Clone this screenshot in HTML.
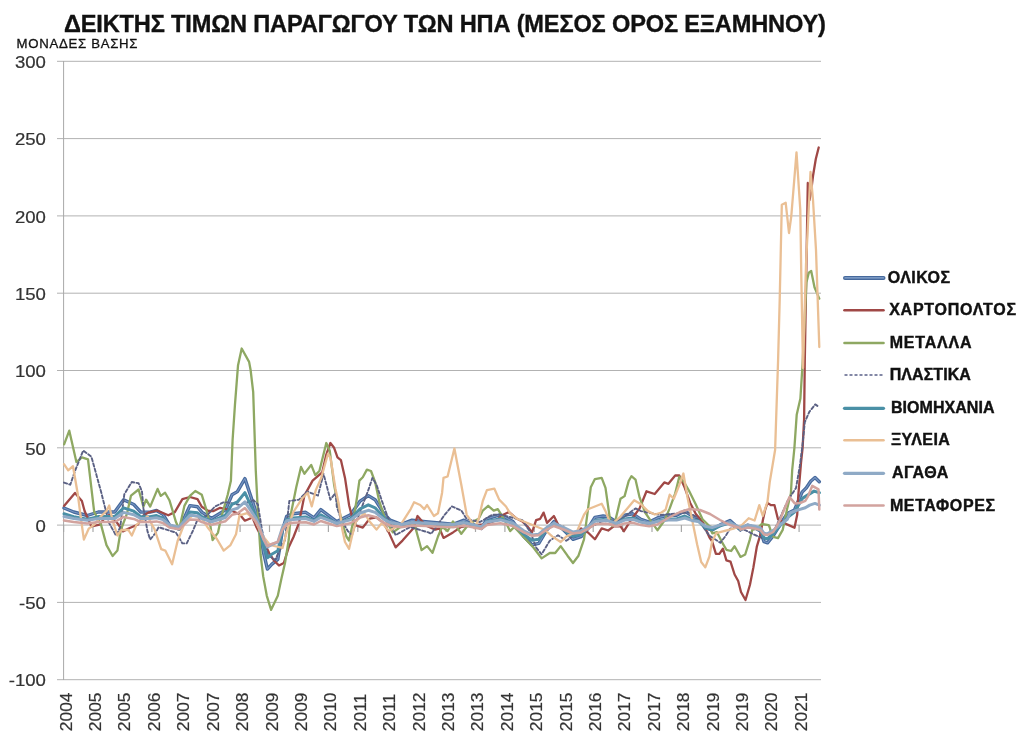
<!DOCTYPE html>
<html><head><meta charset="utf-8"><style>
html,body{margin:0;padding:0;background:#fff;}
body{width:1024px;height:742px;overflow:hidden;position:relative;}
svg{position:absolute;left:0;top:0;filter:blur(0.35px);}
text{font-family:"Liberation Sans",sans-serif;}
.yl{font-size:16.9px;fill:#333;stroke:#333;stroke-width:0.2px;}
.xl{font-size:16.6px;fill:#333;stroke:#333;stroke-width:0.2px;}
.lg{font-size:16px;font-weight:bold;fill:#111;stroke:#111;stroke-width:0.4px;}
.ti{font-size:23.6px;font-weight:bold;fill:#111;stroke:#111;stroke-width:0.35px;letter-spacing:-0.17px;}
.un{font-size:13.2px;fill:#111;stroke:#111;stroke-width:0.3px;letter-spacing:0.7px;}
</style></head><body>
<svg width="1024" height="742" viewBox="0 0 1024 742">
<rect width="1024" height="742" fill="#fff"/>
<text x="64" y="32.2" class="ti">ΔΕΙΚΤΗΣ ΤΙΜΩΝ ΠΑΡΑΓΩΓΟΥ ΤΩΝ ΗΠΑ (ΜΕΣΟΣ ΟΡΟΣ ΕΞΑΜΗΝΟΥ)</text>
<text x="16.6" y="47.6" class="un">ΜΟΝΑΔΕΣ ΒΑΣΗΣ</text>
<line x1="57" y1="61.3" x2="821" y2="61.3" stroke="#b2b2b2" stroke-width="1"/>
<line x1="57" y1="138.6" x2="821" y2="138.6" stroke="#b2b2b2" stroke-width="1"/>
<line x1="57" y1="215.9" x2="821" y2="215.9" stroke="#b2b2b2" stroke-width="1"/>
<line x1="57" y1="293.2" x2="821" y2="293.2" stroke="#b2b2b2" stroke-width="1"/>
<line x1="57" y1="370.5" x2="821" y2="370.5" stroke="#b2b2b2" stroke-width="1"/>
<line x1="57" y1="447.8" x2="821" y2="447.8" stroke="#b2b2b2" stroke-width="1"/>
<line x1="57" y1="525.1" x2="821" y2="525.1" stroke="#b2b2b2" stroke-width="1"/>
<line x1="57" y1="602.4" x2="821" y2="602.4" stroke="#b2b2b2" stroke-width="1"/>
<line x1="57" y1="679.7" x2="821" y2="679.7" stroke="#b2b2b2" stroke-width="1"/>
<line x1="63.6" y1="61" x2="63.6" y2="680" stroke="#a8a8a8" stroke-width="1"/>
<line x1="63.6" y1="525" x2="63.6" y2="532" stroke="#a8a8a8" stroke-width="1.2"/>
<line x1="93.0" y1="525" x2="93.0" y2="532" stroke="#a8a8a8" stroke-width="1.2"/>
<line x1="122.4" y1="525" x2="122.4" y2="532" stroke="#a8a8a8" stroke-width="1.2"/>
<line x1="151.9" y1="525" x2="151.9" y2="532" stroke="#a8a8a8" stroke-width="1.2"/>
<line x1="181.3" y1="525" x2="181.3" y2="532" stroke="#a8a8a8" stroke-width="1.2"/>
<line x1="210.7" y1="525" x2="210.7" y2="532" stroke="#a8a8a8" stroke-width="1.2"/>
<line x1="240.1" y1="525" x2="240.1" y2="532" stroke="#a8a8a8" stroke-width="1.2"/>
<line x1="269.5" y1="525" x2="269.5" y2="532" stroke="#a8a8a8" stroke-width="1.2"/>
<line x1="299.0" y1="525" x2="299.0" y2="532" stroke="#a8a8a8" stroke-width="1.2"/>
<line x1="328.4" y1="525" x2="328.4" y2="532" stroke="#a8a8a8" stroke-width="1.2"/>
<line x1="357.8" y1="525" x2="357.8" y2="532" stroke="#a8a8a8" stroke-width="1.2"/>
<line x1="387.2" y1="525" x2="387.2" y2="532" stroke="#a8a8a8" stroke-width="1.2"/>
<line x1="416.6" y1="525" x2="416.6" y2="532" stroke="#a8a8a8" stroke-width="1.2"/>
<line x1="446.1" y1="525" x2="446.1" y2="532" stroke="#a8a8a8" stroke-width="1.2"/>
<line x1="475.5" y1="525" x2="475.5" y2="532" stroke="#a8a8a8" stroke-width="1.2"/>
<line x1="504.9" y1="525" x2="504.9" y2="532" stroke="#a8a8a8" stroke-width="1.2"/>
<line x1="534.3" y1="525" x2="534.3" y2="532" stroke="#a8a8a8" stroke-width="1.2"/>
<line x1="563.7" y1="525" x2="563.7" y2="532" stroke="#a8a8a8" stroke-width="1.2"/>
<line x1="593.2" y1="525" x2="593.2" y2="532" stroke="#a8a8a8" stroke-width="1.2"/>
<line x1="622.6" y1="525" x2="622.6" y2="532" stroke="#a8a8a8" stroke-width="1.2"/>
<line x1="652.0" y1="525" x2="652.0" y2="532" stroke="#a8a8a8" stroke-width="1.2"/>
<line x1="681.4" y1="525" x2="681.4" y2="532" stroke="#a8a8a8" stroke-width="1.2"/>
<line x1="710.8" y1="525" x2="710.8" y2="532" stroke="#a8a8a8" stroke-width="1.2"/>
<line x1="740.3" y1="525" x2="740.3" y2="532" stroke="#a8a8a8" stroke-width="1.2"/>
<line x1="769.7" y1="525" x2="769.7" y2="532" stroke="#a8a8a8" stroke-width="1.2"/>
<line x1="799.1" y1="525" x2="799.1" y2="532" stroke="#a8a8a8" stroke-width="1.2"/>
<text transform="translate(45.9,68.0) scale(1.1,1)" text-anchor="end" class="yl">300</text>
<text transform="translate(45.9,145.3) scale(1.1,1)" text-anchor="end" class="yl">250</text>
<text transform="translate(45.9,222.6) scale(1.1,1)" text-anchor="end" class="yl">200</text>
<text transform="translate(45.9,299.9) scale(1.1,1)" text-anchor="end" class="yl">150</text>
<text transform="translate(45.9,377.2) scale(1.1,1)" text-anchor="end" class="yl">100</text>
<text transform="translate(45.9,454.5) scale(1.1,1)" text-anchor="end" class="yl">50</text>
<text transform="translate(45.9,531.8) scale(1.1,1)" text-anchor="end" class="yl">0</text>
<text transform="translate(45.9,609.1) scale(1.1,1)" text-anchor="end" class="yl">-50</text>
<text transform="translate(45.9,686.4) scale(1.1,1)" text-anchor="end" class="yl">-100</text>
<text transform="translate(71.6,731.2) rotate(-90) scale(1.05,1)" class="xl">2004</text>
<text transform="translate(101.0,731.2) rotate(-90) scale(1.05,1)" class="xl">2005</text>
<text transform="translate(130.4,731.2) rotate(-90) scale(1.05,1)" class="xl">2005</text>
<text transform="translate(159.8,731.2) rotate(-90) scale(1.05,1)" class="xl">2006</text>
<text transform="translate(189.2,731.2) rotate(-90) scale(1.05,1)" class="xl">2007</text>
<text transform="translate(218.7,731.2) rotate(-90) scale(1.05,1)" class="xl">2007</text>
<text transform="translate(248.1,731.2) rotate(-90) scale(1.05,1)" class="xl">2008</text>
<text transform="translate(277.5,731.2) rotate(-90) scale(1.05,1)" class="xl">2009</text>
<text transform="translate(306.9,731.2) rotate(-90) scale(1.05,1)" class="xl">2009</text>
<text transform="translate(336.3,731.2) rotate(-90) scale(1.05,1)" class="xl">2010</text>
<text transform="translate(365.7,731.2) rotate(-90) scale(1.05,1)" class="xl">2011</text>
<text transform="translate(395.1,731.2) rotate(-90) scale(1.05,1)" class="xl">2011</text>
<text transform="translate(424.5,731.2) rotate(-90) scale(1.05,1)" class="xl">2012</text>
<text transform="translate(453.9,731.2) rotate(-90) scale(1.05,1)" class="xl">2013</text>
<text transform="translate(483.3,731.2) rotate(-90) scale(1.05,1)" class="xl">2013</text>
<text transform="translate(512.8,731.2) rotate(-90) scale(1.05,1)" class="xl">2014</text>
<text transform="translate(542.2,731.2) rotate(-90) scale(1.05,1)" class="xl">2015</text>
<text transform="translate(571.6,731.2) rotate(-90) scale(1.05,1)" class="xl">2015</text>
<text transform="translate(601.0,731.2) rotate(-90) scale(1.05,1)" class="xl">2016</text>
<text transform="translate(630.4,731.2) rotate(-90) scale(1.05,1)" class="xl">2017</text>
<text transform="translate(659.8,731.2) rotate(-90) scale(1.05,1)" class="xl">2017</text>
<text transform="translate(689.2,731.2) rotate(-90) scale(1.05,1)" class="xl">2018</text>
<text transform="translate(718.6,731.2) rotate(-90) scale(1.05,1)" class="xl">2019</text>
<text transform="translate(748.0,731.2) rotate(-90) scale(1.05,1)" class="xl">2019</text>
<text transform="translate(777.4,731.2) rotate(-90) scale(1.05,1)" class="xl">2020</text>
<text transform="translate(806.9,731.2) rotate(-90) scale(1.05,1)" class="xl">2021</text>
<polyline points="64.0,508.0 73.7,512.0 87.3,515.5 98.3,512.0 114.7,512.0 123.6,499.7 133.8,504.5 140.7,512.0 150.0,512.1 156.5,510.5 162.9,514.2 169.4,525.0 179.1,529.3 189.9,505.6 197.5,506.7 201.8,512.1 211.5,518.5 225.5,509.9 232.0,494.8 237.4,491.6 244.9,478.6 250.3,494.8 255.7,511.0 259.0,525.0 263.4,552.0 267.4,569.1 271.7,564.3 277.8,559.4 282.5,530.0 286.6,516.4 293.4,513.7 305.7,512.3 314.0,517.8 320.8,509.6 331.7,517.8 336.8,521.6 350.5,514.8 360.1,501.1 368.3,495.6 375.1,499.7 384.7,514.8 390.2,520.2 401.1,524.3 412.0,520.2 425.7,521.6 439.4,523.0 453.0,524.3 464.0,520.2 481.4,528.4 486.9,518.8 500.5,514.7 512.9,521.5 523.8,536.6 532.0,544.8 538.8,543.4 547.0,529.7 553.9,521.5 563.4,529.7 573.0,539.3 581.2,536.6 588.0,528.4 594.9,517.4 603.1,516.0 608.2,516.6 616.4,522.0 624.6,515.2 632.8,513.8 641.0,519.3 649.2,522.0 657.4,517.9 668.4,515.2 676.6,515.2 684.8,511.1 693.0,516.6 698.4,517.9 705.3,527.5 712.1,530.2 720.3,524.8 730.0,520.5 740.5,529.9 747.5,525.2 754.6,527.5 760.4,531.1 764.0,541.6 767.5,542.8 773.3,535.7 780.4,524.0 787.4,513.5 794.5,510.0 802.1,492.1 806.4,487.8 810.7,481.3 815.0,477.5 819.3,481.8" fill="none" stroke="#46699c" stroke-width="3.4" stroke-linejoin="round" stroke-linecap="round" />
<polyline points="64.0,508.0 73.7,512.0 87.3,515.5 98.3,512.0 114.7,512.0 123.6,499.7 133.8,504.5 140.7,512.0 150.0,512.1 156.5,510.5 162.9,514.2 169.4,525.0 179.1,529.3 189.9,505.6 197.5,506.7 201.8,512.1 211.5,518.5 225.5,509.9 232.0,494.8 237.4,491.6 244.9,478.6 250.3,494.8 255.7,511.0 259.0,525.0 263.4,552.0 267.4,569.1 271.7,564.3 277.8,559.4 282.5,530.0 286.6,516.4 293.4,513.7 305.7,512.3 314.0,517.8 320.8,509.6 331.7,517.8 336.8,521.6 350.5,514.8 360.1,501.1 368.3,495.6 375.1,499.7 384.7,514.8 390.2,520.2 401.1,524.3 412.0,520.2 425.7,521.6 439.4,523.0 453.0,524.3 464.0,520.2 481.4,528.4 486.9,518.8 500.5,514.7 512.9,521.5 523.8,536.6 532.0,544.8 538.8,543.4 547.0,529.7 553.9,521.5 563.4,529.7 573.0,539.3 581.2,536.6 588.0,528.4 594.9,517.4 603.1,516.0 608.2,516.6 616.4,522.0 624.6,515.2 632.8,513.8 641.0,519.3 649.2,522.0 657.4,517.9 668.4,515.2 676.6,515.2 684.8,511.1 693.0,516.6 698.4,517.9 705.3,527.5 712.1,530.2 720.3,524.8 730.0,520.5 740.5,529.9 747.5,525.2 754.6,527.5 760.4,531.1 764.0,541.6 767.5,542.8 773.3,535.7 780.4,524.0 787.4,513.5 794.5,510.0 802.1,492.1 806.4,487.8 810.7,481.3 815.0,477.5 819.3,481.8" fill="none" stroke="#7896c4" stroke-width="1.1" stroke-linejoin="round" stroke-linecap="round" />
<polyline points="64.0,505.9 75.0,492.9 81.9,501.0 84.6,511.0 91.4,526.5 99.6,524.6 105.0,517.5 109.2,515.0 117.4,523.2 122.9,531.4 129.7,528.0 138.0,524.5 143.4,515.5 148.9,512.3 157.1,510.5 168.3,515.3 174.8,512.1 182.4,499.1 189.9,497.0 197.5,499.1 201.8,506.7 208.3,511.0 213.6,511.0 220.1,507.8 230.0,510.0 239.5,514.2 244.9,520.7 252.5,517.5 256.5,527.3 263.4,541.0 269.3,553.3 274.1,560.6 279.0,565.5 283.8,563.0 288.7,547.3 293.5,537.0 298.9,523.2 304.4,495.6 312.6,480.6 322.2,472.4 326.3,454.6 330.4,443.0 334.1,447.8 337.5,457.3 340.9,460.1 345.0,477.9 349.1,505.2 351.9,516.1 354.6,525.0 362.8,527.6 369.6,518.7 376.5,517.3 383.3,522.8 388.8,532.4 395.6,547.4 402.5,540.6 413.4,528.3 417.5,516.0 425.7,525.5 435.3,529.6 439.4,528.3 443.5,537.9 453.0,532.4 461.3,526.9 469.5,525.5 485.5,524.3 496.4,520.2 503.3,514.7 508.8,512.0 517.0,518.8 522.4,521.5 527.9,527.0 532.0,532.5 536.1,520.2 540.2,518.8 543.6,512.6 547.0,522.9 553.9,516.0 558.0,524.3 564.8,529.7 574.4,535.2 581.2,528.4 588.0,532.5 594.9,539.3 601.7,528.4 608.2,530.5 613.7,526.4 620.5,526.4 623.9,531.2 631.4,519.3 639.6,508.4 646.5,491.3 654.7,494.0 664.3,482.4 668.4,483.8 675.2,475.5 679.3,475.5 684.8,487.9 690.2,502.9 695.7,513.8 702.5,522.0 709.4,537.3 712.1,541.4 715.9,553.9 719.4,553.9 722.9,548.7 726.4,560.4 730.5,561.6 734.6,574.5 738.2,581.0 741.0,592.0 745.5,600.0 749.9,585.0 753.4,567.4 756.9,546.3 760.4,534.6 762.8,520.5 765.1,509.9 767.5,502.9 771.0,505.2 774.5,505.2 778.0,519.3 780.4,520.5 787.0,524.4 794.5,527.7 797.2,514.7 798.3,495.3 801.0,463.0 802.6,448.0 804.1,419.3 804.8,360.0 806.0,290.0 807.8,183.0 809.5,200.0 811.0,192.0 813.0,176.0 815.8,159.0 818.7,147.5" fill="none" stroke="#a04846" stroke-width="2.3" stroke-linejoin="round" stroke-linecap="round" />
<polyline points="64.1,444.4 69.3,430.7 76.4,462.1 81.9,457.3 88.0,459.4 94.2,512.0 101.0,524.6 106.5,545.1 112.6,556.0 117.4,550.6 120.8,530.0 127.0,513.7 131.0,495.6 138.6,489.5 143.4,506.6 146.1,499.7 150.2,506.6 157.6,488.9 160.8,495.9 165.1,492.7 169.4,500.2 172.7,511.0 175.9,521.8 179.1,529.3 184.5,505.6 189.9,495.9 195.3,491.0 201.8,494.8 206.1,508.8 210.4,526.1 212.6,540.1 218.0,532.6 221.2,517.5 227.7,494.8 230.9,480.8 232.6,440.0 235.0,404.1 238.0,365.6 241.7,348.5 249.1,361.9 250.6,370.0 253.2,392.2 255.8,471.0 257.9,512.0 260.6,554.7 263.2,576.4 266.8,595.8 271.1,609.8 277.8,595.8 281.4,578.8 285.0,563.0 288.7,540.0 290.7,514.8 296.2,487.4 301.0,466.9 304.4,473.8 311.2,464.9 315.3,475.1 319.4,471.0 326.3,443.0 329.7,450.5 334.1,484.7 338.2,506.4 342.3,522.8 346.4,536.5 349.1,540.6 353.2,521.4 357.3,495.5 359.4,480.6 362.8,477.2 366.9,469.6 371.0,471.0 375.1,482.0 379.2,501.1 384.7,517.5 388.8,525.5 392.9,532.4 402.5,525.5 414.8,525.5 421.6,550.2 427.1,546.1 432.5,552.9 438.0,536.5 442.1,526.9 447.6,531.0 453.0,521.4 461.3,533.8 466.7,526.9 470.5,522.9 478.7,518.8 482.8,510.6 488.2,505.8 493.7,510.6 497.8,509.2 500.5,513.3 506.0,522.9 510.1,531.1 514.2,527.0 533.4,547.5 541.6,558.4 549.8,553.0 555.2,553.0 560.7,546.1 567.5,555.7 573.0,563.0 578.5,555.7 584.0,539.3 588.0,509.2 590.8,487.3 594.9,479.1 601.7,477.8 605.5,487.9 609.6,516.6 612.3,526.1 615.0,522.0 620.5,498.8 624.6,496.1 628.7,481.0 631.4,476.2 635.5,479.6 639.6,497.4 645.1,512.5 650.6,520.7 657.4,530.2 664.3,520.7 669.7,508.4 675.2,493.3 679.3,476.9 683.4,481.0 688.9,490.6 695.7,504.3 702.5,519.3 709.4,526.1 712.3,533.4 717.0,532.2 721.7,541.6 726.4,549.8 731.1,551.0 734.6,546.3 740.5,556.9 745.2,554.5 749.9,539.3 752.2,529.9 756.9,528.7 761.6,524.0 768.7,525.2 773.3,536.9 778.0,538.1 782.7,529.9 787.4,507.6 790.9,493.5 792.2,470.0 794.4,448.0 796.7,414.8 800.4,398.5 802.5,365.0 806.4,282.4 808.8,272.7 811.2,271.0 814.5,287.2 819.3,298.6" fill="none" stroke="#8ea862" stroke-width="2.3" stroke-linejoin="round" stroke-linecap="round" />
<polyline points="64.0,482.6 70.3,484.7 75.0,471.0 83.2,450.5 91.4,456.7 101.0,491.5 106.5,513.4 109.2,523.2 116.0,535.5 120.2,527.3 124.3,494.3 131.8,482.0 138.6,483.3 142.0,491.5 143.4,508.2 147.5,531.4 150.2,539.6 155.7,532.8 158.6,527.2 175.9,532.6 182.4,543.4 186.7,543.4 193.1,530.4 197.5,519.6 207.2,515.3 214.7,506.7 223.4,502.4 227.7,502.4 240.0,505.0 253.6,500.2 257.9,504.5 262.0,530.0 268.0,555.0 275.0,560.0 285.0,540.0 289.3,501.0 299.0,499.7 307.1,491.5 318.0,495.6 323.5,473.8 330.4,499.7 335.5,492.9 336.8,506.6 340.9,518.9 347.8,531.0 352.0,535.0 357.3,518.9 368.3,490.2 372.4,477.9 376.5,484.7 382.0,501.1 387.4,516.1 391.5,525.7 395.6,535.1 410.0,527.0 428.4,532.4 431.2,533.8 444.8,514.6 451.7,506.4 461.3,510.5 466.7,519.0 480.0,522.0 492.3,514.7 500.5,514.7 522.4,520.2 530.6,532.5 536.1,547.5 541.6,554.3 549.8,540.7 558.0,535.2 566.2,540.7 575.0,535.0 588.0,528.4 601.7,521.5 620.0,520.0 635.5,508.4 641.0,511.1 660.0,515.0 688.9,512.5 695.7,516.6 709.4,535.7 720.3,542.8 725.8,535.7 730.0,528.7 735.4,527.8 745.0,530.0 755.0,535.0 765.0,539.0 772.0,535.0 780.0,518.0 788.0,500.0 796.0,488.0 800.0,465.0 802.5,445.0 804.8,422.2 809.3,411.9 815.2,404.4 817.4,405.9" fill="none" stroke="#5b6184" stroke-width="1.9" stroke-linejoin="round" stroke-linecap="round" stroke-dasharray="3.2 2.3" stroke-linecap="butt"/>
<polyline points="64.0,513.8 73.7,516.6 87.3,519.2 98.3,516.6 114.7,516.6 123.6,507.8 133.8,511.2 140.7,516.6 150.0,516.7 156.5,515.6 162.9,518.2 169.4,526.0 179.1,529.1 189.9,512.0 197.5,512.8 201.8,516.7 211.5,521.3 225.5,515.1 232.0,504.3 237.4,502.0 244.9,492.6 250.3,504.3 255.7,515.9 259.0,526.0 263.4,545.4 267.4,557.8 271.7,554.3 277.8,550.8 282.5,529.6 286.6,519.8 293.4,517.9 305.7,516.9 314.0,520.8 320.8,514.9 331.7,520.8 336.8,523.6 350.5,518.7 360.1,508.8 368.3,504.8 375.1,507.8 384.7,518.7 390.2,522.5 401.1,525.5 412.0,522.5 425.7,523.6 439.4,524.6 453.0,525.5 464.0,522.5 481.4,528.4 486.9,521.5 500.5,518.6 512.9,523.5 523.8,534.4 532.0,540.3 538.8,539.2 547.0,529.4 553.9,523.5 563.4,529.4 573.0,536.3 581.2,534.4 588.0,528.4 594.9,520.5 603.1,519.5 608.2,520.0 616.4,523.8 624.6,518.9 632.8,517.9 641.0,521.9 649.2,523.8 657.4,520.9 668.4,518.9 676.6,518.9 684.8,516.0 693.0,520.0 698.4,520.9 705.3,527.8 712.1,529.7 720.3,525.9 730.0,522.8 740.5,529.5 747.5,526.1 754.6,527.8 760.4,530.4 764.0,538.0 767.5,538.8 773.3,533.7 780.4,525.3 787.4,517.7 794.5,512.0 802.7,498.1 814.1,491.1 819.4,492.8" fill="none" stroke="#4a90a6" stroke-width="3.0" stroke-linejoin="round" stroke-linecap="round" />
<polyline points="64.0,464.2 68.2,470.3 73.0,466.2 77.8,494.3 81.2,520.5 83.9,539.6 88.7,528.7 94.2,524.6 99.6,517.8 106.5,511.0 109.2,505.5 112.6,520.5 117.4,535.5 121.5,530.0 128.4,530.0 131.8,535.5 136.6,524.6 147.5,516.4 154.3,528.7 161.2,549.2 165.3,550.6 172.1,564.3 177.6,541.0 185.6,520.7 193.1,515.3 201.8,518.5 208.3,528.3 216.9,539.0 223.7,550.6 230.5,545.1 236.0,534.2 239.5,515.3 247.1,513.1 255.2,520.5 262.0,535.0 270.0,545.0 282.5,547.9 288.0,527.3 293.4,512.0 302.3,498.2 307.7,492.8 311.8,506.3 315.8,490.1 321.2,478.0 328.0,453.7 330.5,458.0 335.5,489.0 338.7,503.6 342.3,529.6 345.0,542.0 349.1,548.8 351.9,536.5 356.0,521.4 364.2,513.2 369.6,521.4 376.5,529.6 382.0,522.8 388.8,531.0 401.1,524.2 410.7,509.1 414.1,502.3 420.2,505.0 424.3,509.1 427.1,505.0 433.9,516.0 438.0,513.2 442.1,492.7 443.5,477.9 447.6,476.5 454.4,448.5 461.3,484.7 466.7,514.8 470.5,520.2 474.6,528.4 478.7,518.8 482.8,501.0 486.9,490.1 494.4,488.7 499.2,499.6 506.0,506.5 510.1,513.3 517.0,518.8 530.0,524.0 545.0,530.0 552.5,536.6 560.7,542.0 566.2,536.6 577.1,531.1 584.0,514.7 588.0,509.2 594.9,506.5 601.7,503.8 605.5,511.1 610.9,524.8 620.5,516.6 627.3,508.4 634.2,500.2 641.0,504.3 647.9,511.1 654.7,514.5 661.5,512.5 665.6,509.7 669.7,494.7 673.8,498.8 679.3,485.1 683.4,473.5 687.5,497.4 693.0,524.0 697.1,544.2 701.2,562.0 705.3,567.4 709.4,556.5 712.1,541.4 716.2,533.2 733.5,528.7 741.7,525.2 748.7,518.2 754.6,520.5 759.3,505.2 762.8,515.8 767.5,501.7 769.7,482.4 775.1,450.0 778.1,360.0 779.7,300.0 781.8,204.7 785.7,202.8 789.0,233.0 791.3,216.0 796.5,152.3 800.3,210.0 801.2,270.0 803.0,368.0 806.0,265.0 810.5,172.0 813.0,200.0 816.0,250.0 819.3,347.0" fill="none" stroke="#eabf94" stroke-width="2.3" stroke-linejoin="round" stroke-linecap="round" />
<polyline points="64.0,516.5 73.7,518.5 87.3,520.2 98.3,518.5 114.7,518.5 123.6,512.4 133.8,514.8 140.7,518.5 150.0,518.5 156.5,517.8 162.9,519.6 169.4,525.0 179.1,527.1 189.9,515.3 197.5,515.9 201.8,518.5 211.5,521.8 225.5,517.5 232.0,509.9 237.4,508.3 244.9,501.8 250.3,509.9 255.7,518.0 259.0,525.0 263.4,538.5 267.4,547.0 271.7,544.6 277.8,542.2 282.5,527.5 286.6,520.7 293.4,519.4 305.7,518.6 314.0,521.4 320.8,517.3 331.7,521.4 336.8,523.3 350.5,519.9 360.1,513.0 368.3,510.3 375.1,512.4 384.7,519.9 390.2,522.6 401.1,524.6 412.0,522.6 425.7,523.3 439.4,524.0 453.0,524.6 464.0,522.6 481.4,526.7 486.9,521.9 500.5,519.9 512.9,523.2 523.8,530.8 532.0,534.9 538.8,534.2 547.0,527.4 553.9,523.2 563.4,527.4 573.0,532.1 581.2,530.8 588.0,526.7 594.9,521.2 603.1,520.5 608.2,520.8 616.4,523.5 624.6,520.1 632.8,519.4 641.0,522.1 649.2,523.5 657.4,521.5 668.4,520.1 676.6,520.1 684.8,518.0 693.0,520.8 698.4,521.5 705.3,526.2 712.1,527.6 720.3,524.9 730.0,522.8 740.5,527.5 747.5,525.1 754.6,526.2 760.4,528.0 764.0,533.3 767.5,533.9 773.3,530.4 780.4,524.5 787.4,519.2 790.0,513.0 796.5,510.4 805.3,507.8 809.7,505.1 815.0,503.4 819.4,505.1" fill="none" stroke="#8faac6" stroke-width="3.0" stroke-linejoin="round" stroke-linecap="round" />
<polyline points="64.0,520.4 73.7,522.0 87.3,523.5 98.3,522.0 114.7,522.0 123.6,516.9 133.8,518.9 140.7,522.0 150.0,522.1 156.5,521.4 162.9,523.0 169.4,527.5 179.1,529.3 189.9,519.4 197.5,519.8 201.8,522.1 211.5,524.8 225.5,521.2 232.0,514.8 237.4,513.5 244.9,508.0 250.3,514.8 255.7,521.6 259.0,527.5 263.4,538.8 267.4,546.0 271.7,544.0 277.8,541.9 282.5,529.6 286.6,523.9 293.4,522.8 305.7,522.2 314.0,524.5 320.8,521.0 331.7,524.5 336.8,526.1 350.5,523.2 360.1,517.5 368.3,515.2 375.1,516.9 384.7,523.2 390.2,525.5 401.1,527.2 412.0,525.5 425.7,526.1 439.4,526.7 453.0,527.2 464.0,525.5 481.4,528.9 486.9,524.9 500.5,523.2 512.9,526.0 523.8,532.4 532.0,535.8 538.8,535.2 547.0,529.5 553.9,526.0 563.4,529.5 573.0,533.5 581.2,532.4 588.0,528.9 594.9,524.3 603.1,523.7 608.2,524.0 616.4,526.2 624.6,523.4 632.8,522.8 641.0,525.1 649.2,526.2 657.4,524.5 668.0,518.0 680.0,512.0 690.0,509.0 700.0,510.0 710.0,514.0 720.0,520.0 730.0,525.0 740.0,528.0 740.5,529.6 747.5,527.6 754.6,528.5 760.4,530.1 764.0,534.5 767.5,535.0 773.3,532.0 780.0,520.0 784.0,510.0 789.5,497.0 794.8,503.4 800.0,503.0 805.3,500.8 808.0,496.4 812.3,485.8 818.5,489.3 819.3,509.4" fill="none" stroke="#d2a39e" stroke-width="2.5" stroke-linejoin="round" stroke-linecap="round" />
<line x1="845" y1="277.9" x2="883.5" y2="277.9" stroke="#46699c" stroke-width="4" stroke-linecap="round"/>
<line x1="845" y1="277.9" x2="883.5" y2="277.9" stroke="#8aa8d0" stroke-width="1.4" stroke-linecap="round"/>
<text x="887.7" y="283.0" class="lg" textLength="62.3" lengthAdjust="spacing">ΟΛΙΚΟΣ</text>
<line x1="844.5" y1="310.3" x2="883.5" y2="310.3" stroke="#a04846" stroke-width="2.6" stroke-linecap="round"/>
<text x="889.2" y="315.4" class="lg" textLength="126.8" lengthAdjust="spacing">ΧΑΡΤΟΠΟΛΤΟΣ</text>
<line x1="844.5" y1="343" x2="883.5" y2="343" stroke="#8ea862" stroke-width="2.6" stroke-linecap="round"/>
<text x="889.7" y="348.1" class="lg" textLength="81.8" lengthAdjust="spacing">ΜΕΤΑΛΛΑ</text>
<line x1="844.5" y1="375" x2="883.5" y2="375" stroke="#5a6088" stroke-width="1.5" stroke-dasharray="3 2"/>
<text x="889.7" y="380.1" class="lg" textLength="81.2" lengthAdjust="spacing">ΠΛΑΣΤΙΚΑ</text>
<line x1="844.5" y1="408.3" x2="883.5" y2="408.3" stroke="#4a90a6" stroke-width="3.2" stroke-linecap="round"/>
<text x="890.9" y="413.4" class="lg" textLength="103.6" lengthAdjust="spacing">ΒΙΟΜΗΧΑΝΙΑ</text>
<line x1="844.5" y1="440.2" x2="883.5" y2="440.2" stroke="#eabf94" stroke-width="2.6" stroke-linecap="round"/>
<text x="890.9" y="445.3" class="lg" textLength="58.9" lengthAdjust="spacing">ΞΥΛΕΙΑ</text>
<line x1="844.5" y1="473.3" x2="883.5" y2="473.3" stroke="#8faac6" stroke-width="3.2" stroke-linecap="round"/>
<text x="891.9" y="478.4" class="lg" textLength="56.4" lengthAdjust="spacing">ΑΓΑΘΑ</text>
<line x1="844.5" y1="505.5" x2="883.5" y2="505.5" stroke="#d2a39e" stroke-width="2.6" stroke-linecap="round"/>
<text x="889.9" y="510.6" class="lg" textLength="105.2" lengthAdjust="spacing">ΜΕΤΑΦΟΡΕΣ</text>
</svg>
</body></html>
